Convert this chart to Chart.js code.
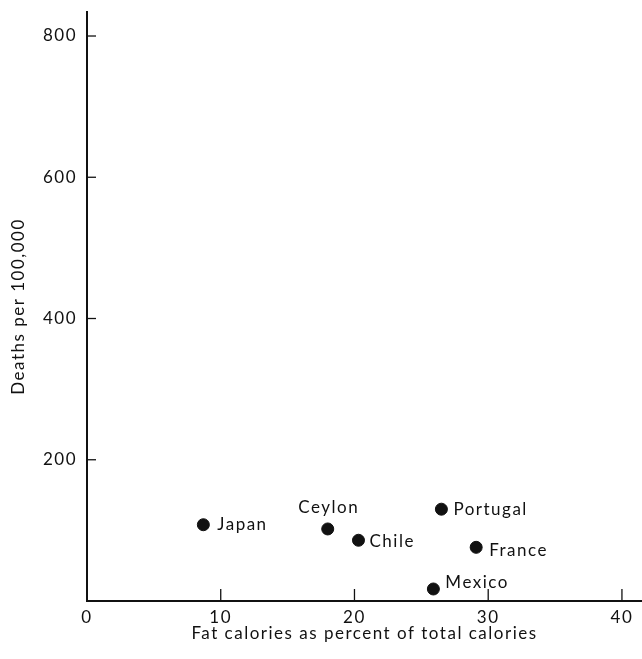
<!DOCTYPE html>
<html>
<head>
<meta charset="utf-8">
<script src="https://cdn.jsdelivr.net/npm/chart.js@4.4.1/dist/chart.umd.min.js"></script>
<style>
  html,body{margin:0;padding:0;background:#fff}
  #wrap{width:642px;height:659px;position:relative}
</style>
</head>
<body>
<div id="wrap"><canvas id="chart"></canvas></div>
<script>
// data
const countries = ['Japan','Ceylon','Chile','Portugal','France','Mexico'];
const fatPct    = [8.7, 18.0, 20.3, 26.5, 29.1, 25.9];
const deaths    = [108, 102, 86, 130, 76, 17];
const xTicks = [0,10,20,30,40];
const yTicks = [200,400,600,800];

const ink = '#111';
const fontFamily = 'Lato, "Noto Sans", sans-serif';
const spacing = '1.5px';

// where each name sits relative to its dot
const labelPlace = {
  Japan:{dx:14,dy:0,align:'left'},
  Ceylon:{dx:1,dy:-21,align:'center'},
  Chile:{dx:11,dy:1,align:'left'},
  Portugal:{dx:12,dy:0,align:'left'},
  France:{dx:13,dy:3,align:'left'},
  Mexico:{dx:12,dy:-6,align:'left'}
};

// the old typeset look is wide, so space the letters out a bit
const letterSpace = {
  id:'letterSpace',
  beforeUpdate(chart){chart.ctx.letterSpacing = spacing},
  beforeDraw(chart){chart.ctx.letterSpacing = spacing}
};

const innerTicks = {
  id:'innerTicks',
  afterDatasetsDraw(chart){
    const {ctx, scales:{x,y}} = chart;
    ctx.save();
    ctx.strokeStyle = ink; ctx.lineWidth = 1.3;
    xTicks.forEach(v=>{
      if(v===0) return;
      const px = x.getPixelForValue(v);
      ctx.beginPath(); ctx.moveTo(px,y.bottom); ctx.lineTo(px,y.bottom-12); ctx.stroke();
    });
    yTicks.forEach(v=>{
      const py = y.getPixelForValue(v);
      ctx.beginPath(); ctx.moveTo(x.left,py); ctx.lineTo(x.left+9,py); ctx.stroke();
    });
    // names next to the dots
    const meta = chart.getDatasetMeta(0);
    ctx.fillStyle = ink;
    ctx.letterSpacing = spacing;
    ctx.font = '17px ' + fontFamily;
    ctx.textBaseline = 'middle';
    meta.data.forEach((pt,i)=>{
      const p = labelPlace[countries[i]];
      ctx.textAlign = p.align;
      ctx.fillText(countries[i], pt.x+p.dx, pt.y+p.dy);
    });
    ctx.restore();
  }
};

new Chart(document.getElementById('chart'),{
  type:'scatter',
  data:{
    datasets:[{
      data:fatPct.map((v,i)=>({x:v,y:deaths[i]})),
      backgroundColor:ink,
      borderColor:ink,
      pointRadius:6,
      pointHoverRadius:6
    }]
  },
  options:{
    responsive:true,
    maintainAspectRatio:false,
    animation:false,
    layout:{autoPadding:false,padding:{top:12,right:0,left:0,bottom:0}},
    plugins:{legend:{display:false},tooltip:{enabled:false}},
    scales:{
      x:{
        type:'linear',min:0,max:41.5,
        afterBuildTicks:s=>{s.ticks=xTicks.map(v=>({value:v}))},
        afterFit:s=>{s.height=58; s.paddingLeft=0; s.paddingRight=0},
        grid:{drawOnChartArea:false,drawTicks:false},
        border:{display:true,color:ink,width:2},
        ticks:{color:ink,padding:6,font:{family:fontFamily,size:17},maxRotation:0},
        title:{display:true,text:'Fat calories as percent of total calories',color:ink,
          font:{family:fontFamily,size:17},padding:{top:4,bottom:15}}
      },
      y:{
        type:'linear',min:0,max:834,
        afterBuildTicks:s=>{s.ticks=yTicks.map(v=>({value:v}))},
        afterFit:s=>{s.width=87; s.paddingTop=0; s.paddingBottom=0},
        grid:{drawOnChartArea:false,drawTicks:false},
        border:{display:true,color:ink,width:2},
        ticks:{color:ink,padding:10,font:{family:fontFamily,size:17}},
        title:{display:true,text:'Deaths per 100,000',color:ink,
          font:{family:fontFamily,size:17},padding:{top:8,bottom:0}}
      }
    }
  },
  plugins:[letterSpace,innerTicks]
});
</script>
</body>
</html>
